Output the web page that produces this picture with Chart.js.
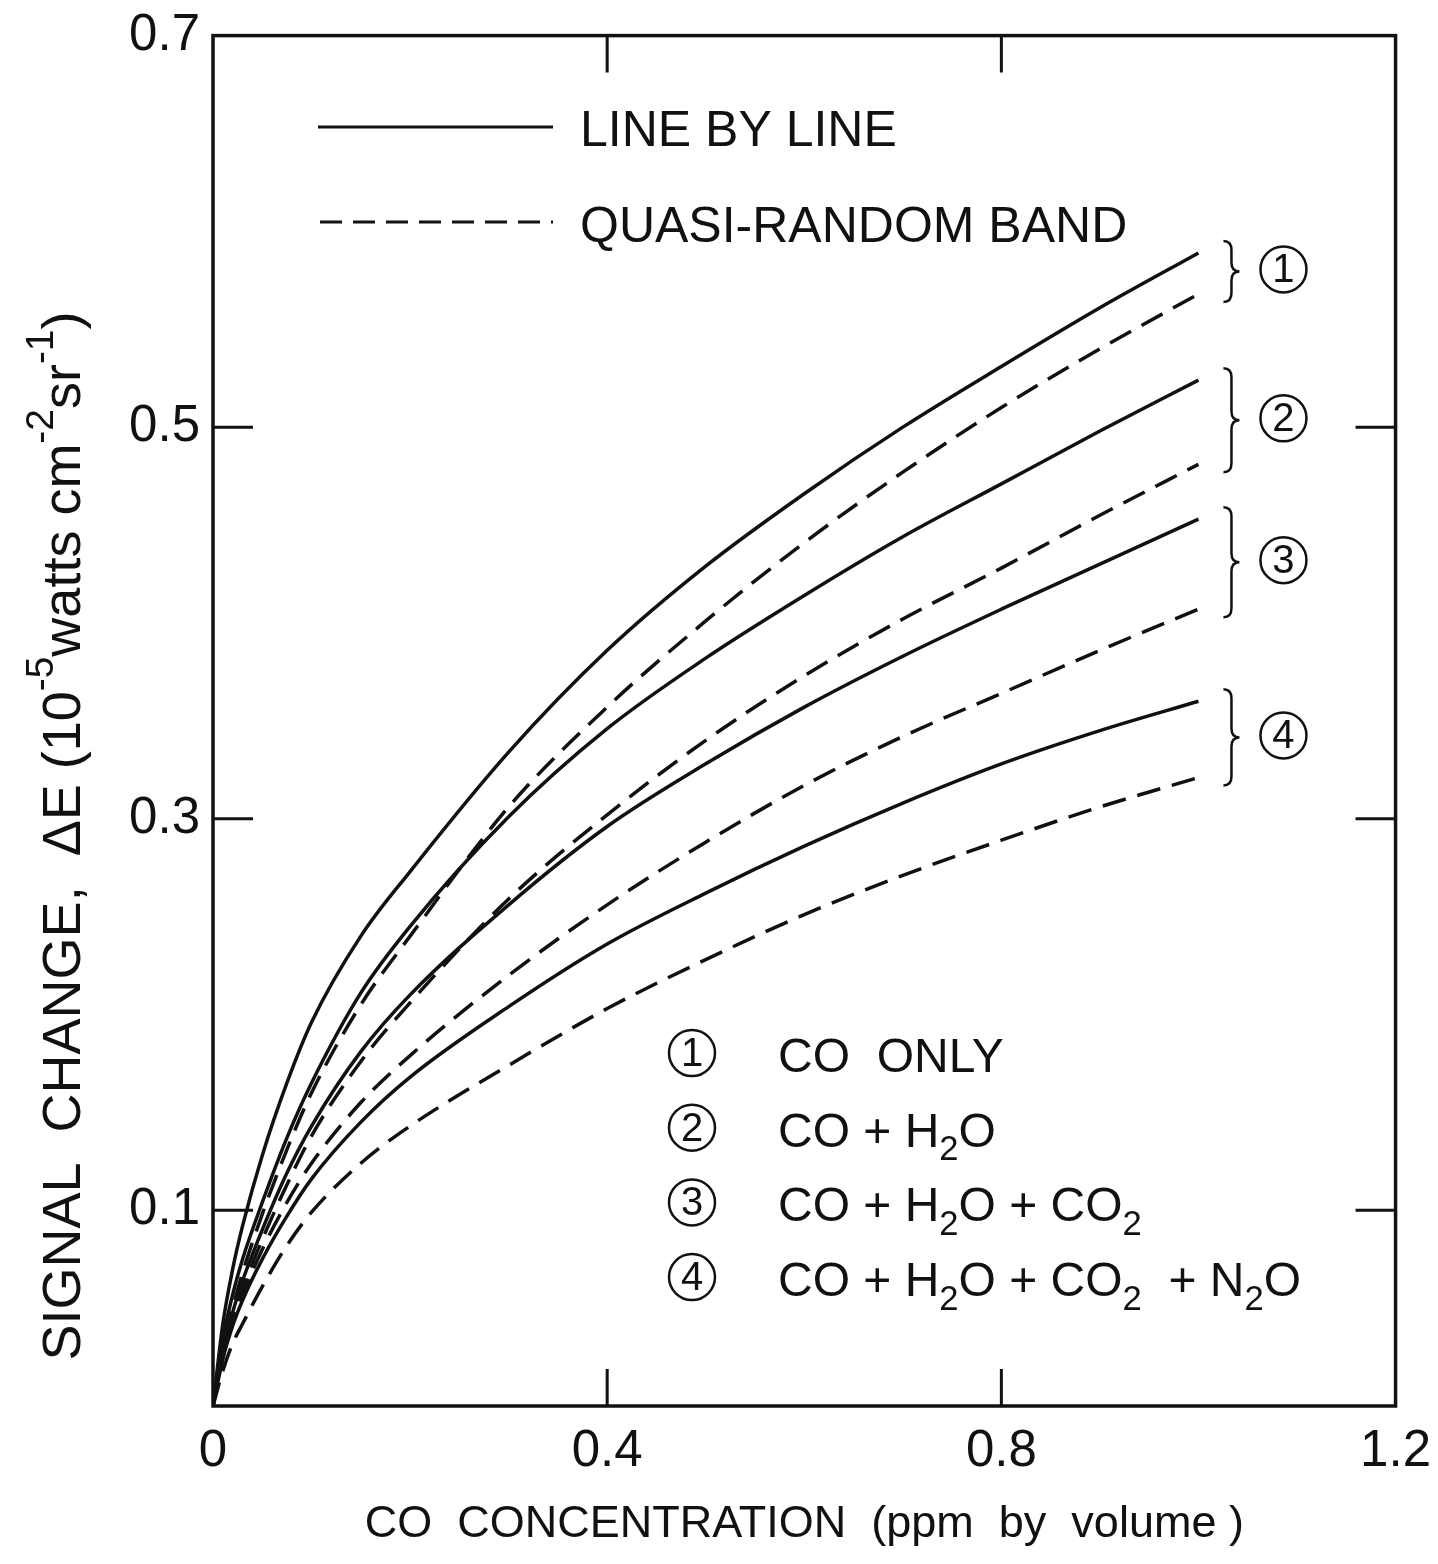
<!DOCTYPE html>
<html>
<head>
<meta charset="utf-8">
<script src="https://cdn.jsdelivr.net/npm/chart.js@4/dist/chart.umd.min.js"></script>
<style>
html,body{margin:0;padding:0;background:#fff;}
#wrap{width:1438px;height:1564px;position:relative;}
canvas{display:block;}
</style>
</head>
<body>
<div id="wrap"><canvas id="c" width="1438" height="1564"></canvas></div>
<script>
// ---- data ----
const concentration = [0, 0.01, 0.02, 0.03, 0.05, 0.075, 0.1, 0.15, 0.2, 0.3, 0.4, 0.5, 0.6, 0.7, 0.8, 0.9, 1.0];

// LINE BY LINE (solid)
const lblCoOnly      = [0, 0.042, 0.070, 0.092, 0.128, 0.165, 0.196, 0.240, 0.273, 0.334, 0.386, 0.429, 0.466, 0.500, 0.531, 0.561, 0.589];
const lblCoH2o       = [0, 0.034, 0.057, 0.075, 0.104, 0.137, 0.165, 0.211, 0.245, 0.301, 0.346, 0.382, 0.414, 0.444, 0.471, 0.498, 0.524];
const lblCoH2oCo2    = [0, 0.028, 0.048, 0.064, 0.090, 0.119, 0.143, 0.181, 0.210, 0.256, 0.296, 0.328, 0.357, 0.383, 0.407, 0.430, 0.453];
const lblCoH2oCo2N2o = [0, 0.024, 0.041, 0.054, 0.075, 0.097, 0.116, 0.145, 0.168, 0.204, 0.236, 0.262, 0.286, 0.308, 0.328, 0.345, 0.360];

// QUASI-RANDOM BAND (dashed)
const qrbCoOnly      = [0, 0.028, 0.050, 0.068, 0.098, 0.131, 0.160, 0.205, 0.240, 0.306, 0.357, 0.401, 0.441, 0.477, 0.510, 0.540, 0.568];
const qrbCoH2o       = [0, 0.026, 0.045, 0.060, 0.085, 0.113, 0.138, 0.176, 0.206, 0.259, 0.302, 0.340, 0.373, 0.402, 0.428, 0.455, 0.481];
const qrbCoH2oCo2    = [0, 0.025, 0.043, 0.057, 0.080, 0.104, 0.124, 0.155, 0.179, 0.220, 0.256, 0.288, 0.317, 0.342, 0.364, 0.386, 0.407];
const qrbCoH2oCo2N2o = [0, 0.018, 0.032, 0.042, 0.061, 0.082, 0.099, 0.124, 0.143, 0.174, 0.203, 0.228, 0.251, 0.271, 0.289, 0.306, 0.321];

const lineByLineSeries = [lblCoOnly, lblCoH2o, lblCoH2oCo2, lblCoH2oCo2N2o];
const quasiRandomSeries = [qrbCoOnly, qrbCoH2o, qrbCoH2oCo2, qrbCoH2oCo2N2o];
const caseNumbers = ['1', '2', '3', '4'];
const caseLabels = ['CO  ONLY', 'CO + H_2O', 'CO + H_2O + CO_2', 'CO + H_2O + CO_2  + N_2O'];
const methodLabels = ['LINE BY LINE', 'QUASI-RANDOM BAND'];

const xTickLabels = ['0', '0.4', '0.8', '1.2'];
const yTickLabels = ['0.1', '0.3', '0.5', '0.7'];
const xAxisTitle = 'CO  CONCENTRATION  (ppm  by  volume )';
const yAxisTitle = 'SIGNAL  CHANGE,  \u0394E (10^{-5}watts cm^{-2}sr^{-1})';

// ---- styling ----
const FONT = "'Liberation Sans', Arial, Helvetica, sans-serif";
const INK = '#111';
const DASH = [24, 12];

function fmt(v) { return String(Math.round(v * 10) / 10); }

function parseRich(s) {
  const out = []; let i = 0, buf = '';
  while (i < s.length) {
    const c = s[i];
    if (c === '_' || c === '^') {
      if (buf) { out.push({ t: buf }); buf = ''; }
      let t;
      if (s[i + 1] === '{') { const j = s.indexOf('}', i); t = s.slice(i + 2, j); i = j + 1; }
      else { t = s[i + 1]; i += 2; }
      out.push({ t, mode: c === '_' ? 'sub' : 'sup' });
    } else { buf += c; i++; }
  }
  if (buf) out.push({ t: buf });
  return out;
}

function richWidth(ctx, pieces, size) {
  let w = 0;
  for (const p of pieces) {
    const fs = p.mode ? size * 0.72 : size;
    ctx.font = fs + 'px ' + FONT;
    w += ctx.measureText(p.t).width;
  }
  return w;
}

function drawRich(ctx, x, y, pieces, size, align) {
  let cx = x;
  if (align === 'center') cx = x - richWidth(ctx, pieces, size) / 2;
  ctx.textBaseline = 'alphabetic';
  ctx.textAlign = 'left';
  for (const p of pieces) {
    const fs = p.mode ? size * 0.72 : size;
    ctx.font = fs + 'px ' + FONT;
    let dy = 0;
    if (p.mode === 'sub') dy = size * 0.28;
    if (p.mode === 'sup') dy = -size * 0.5;
    ctx.fillText(p.t, cx, y + dy);
    cx += ctx.measureText(p.t).width;
  }
}

function drawBrace(ctx, x, yTop, yBot, w) {
  const ym = (yTop + yBot) / 2;
  const xm = x + w * 0.5;
  const r = Math.min(9, (yBot - yTop) / 6);
  ctx.beginPath();
  ctx.moveTo(x, yTop);
  ctx.quadraticCurveTo(xm, yTop, xm, yTop + r);
  ctx.lineTo(xm, ym - r);
  ctx.quadraticCurveTo(xm, ym, x + w, ym);
  ctx.quadraticCurveTo(xm, ym, xm, ym + r);
  ctx.lineTo(xm, yBot - r);
  ctx.quadraticCurveTo(xm, yBot, x, yBot);
  ctx.stroke();
}

function drawCircled(ctx, cx, cy, r, digit) {
  ctx.beginPath();
  ctx.arc(cx, cy, r, 0, Math.PI * 2);
  ctx.stroke();
  ctx.font = '40px ' + FONT;
  ctx.textAlign = 'center';
  ctx.textBaseline = 'middle';
  ctx.fillText(digit, cx, cy + 2);
}

const decorPlugin = {
  id: 'decor',
  afterDatasetsDraw(chart) {
    const ctx = chart.ctx;
    const a = chart.chartArea;
    const xs = chart.scales.x, ys = chart.scales.y;
    ctx.save();
    ctx.strokeStyle = INK;
    ctx.fillStyle = INK;
    ctx.lineCap = 'butt';

    // frame
    ctx.lineWidth = 3.5;
    ctx.strokeRect(a.left, a.top, a.right - a.left, a.bottom - a.top);

    // inward tick marks on all four sides
    ctx.lineWidth = 3;
    ctx.beginPath();
    for (const t of xs.ticks) {
      if (t.value <= xs.min + 1e-9 || t.value >= xs.max - 1e-9) continue;
      const px = xs.getPixelForValue(t.value);
      ctx.moveTo(px, a.bottom); ctx.lineTo(px, a.bottom - 37);
      ctx.moveTo(px, a.top); ctx.lineTo(px, a.top + 37);
    }
    for (const t of ys.ticks) {
      if (t.value <= ys.min + 1e-9 || t.value >= ys.max - 1e-9) continue;
      const py = ys.getPixelForValue(t.value);
      ctx.moveTo(a.left, py); ctx.lineTo(a.left + 40, py);
      ctx.moveTo(a.right, py); ctx.lineTo(a.right - 40, py);
    }
    ctx.stroke();

    // method legend (top left)
    ctx.lineWidth = 3;
    ctx.beginPath(); ctx.moveTo(318, 127); ctx.lineTo(553, 127); ctx.stroke();
    ctx.setLineDash([22, 11]);
    ctx.beginPath(); ctx.moveTo(320, 222); ctx.lineTo(553, 222); ctx.stroke();
    ctx.setLineDash([]);
    ctx.font = '50px ' + FONT;
    ctx.textAlign = 'left';
    ctx.textBaseline = 'alphabetic';
    ctx.fillText(methodLabels[0], 580, 146);
    ctx.fillText(methodLabels[1], 580, 242);

    // braces and circled numbers at the curve ends
    ctx.lineWidth = 2.5;
    for (let i = 0; i < 4; i++) {
      const s = lineByLineSeries[i], q = quasiRandomSeries[i];
      const xEnd = concentration[concentration.length - 1];
      const yTop = ys.getPixelForValue(s[s.length - 1]) - 12;
      const yBot = ys.getPixelForValue(q[q.length - 1]) + 8;
      const bx = xs.getPixelForValue(xEnd) + 25;
      drawBrace(ctx, bx, yTop, yBot, 16);
      drawCircled(ctx, bx + 60, (yTop + yBot) / 2 - 2, 23, caseNumbers[i]);
    }

    // case legend (bottom right)
    for (let i = 0; i < 4; i++) {
      const base = 1072 + i * 74.7;
      ctx.lineWidth = 2.5;
      drawCircled(ctx, 692, base - 19, 23, caseNumbers[i]);
      ctx.fillStyle = INK;
      drawRich(ctx, 778, base, parseRich(caseLabels[i]), 48, 'left');
    }

    // y axis title (rotated, with superscripts)
    ctx.save();
    ctx.translate(80, 836);
    ctx.rotate(-Math.PI / 2);
    drawRich(ctx, 0, 0, parseRich(yAxisTitle), 54, 'center');
    ctx.restore();

    ctx.restore();
  }
};

function makeSet(label, arr, dashed) {
  return {
    label,
    data: concentration.map((x, i) => ({ x, y: arr[i] })),
    borderColor: INK,
    borderWidth: 3.5,
    borderDash: dashed ? DASH : [],
    pointRadius: 0,
    fill: false,
    cubicInterpolationMode: 'monotone'
  };
}

const datasets = [];
for (let i = 0; i < 4; i++) {
  datasets.push(makeSet(methodLabels[0] + ' ' + caseNumbers[i], lineByLineSeries[i], false));
  datasets.push(makeSet(methodLabels[1] + ' ' + caseNumbers[i], quasiRandomSeries[i], true));
}

new Chart(document.getElementById('c'), {
  type: 'line',
  data: { datasets },
  options: {
    responsive: false,
    animation: false,
    devicePixelRatio: 1,
    layout: { padding: { left: 0, right: 36, top: 29, bottom: 0 } },
    plugins: { legend: { display: false }, tooltip: { enabled: false } },
    scales: {
      x: {
        type: 'linear', min: 0, max: 1.2,
        grid: { display: false },
        border: { display: false },
        ticks: {
          stepSize: 0.2, autoSkip: false, maxRotation: 0, padding: 7,
          color: INK, font: { size: 51, family: FONT },
          callback: v => xTickLabels.includes(fmt(v)) ? fmt(v) : null
        },
        title: {
          display: true, text: xAxisTitle, color: INK,
          font: { size: 45, family: FONT }, padding: { top: 0, bottom: 12 }
        },
        afterFit: s => { s.height = 158; }
      },
      y: {
        type: 'linear', min: 0, max: 0.7,
        grid: { display: false },
        border: { display: false },
        ticks: {
          stepSize: 0.1, autoSkip: false, padding: 5,
          color: INK, font: { size: 51, family: FONT },
          callback: v => yTickLabels.includes(fmt(v)) ? fmt(v) : null
        },
        afterFit: s => { s.width = 213; }
      }
    }
  },
  plugins: [decorPlugin]
});
</script>
</body>
</html>
